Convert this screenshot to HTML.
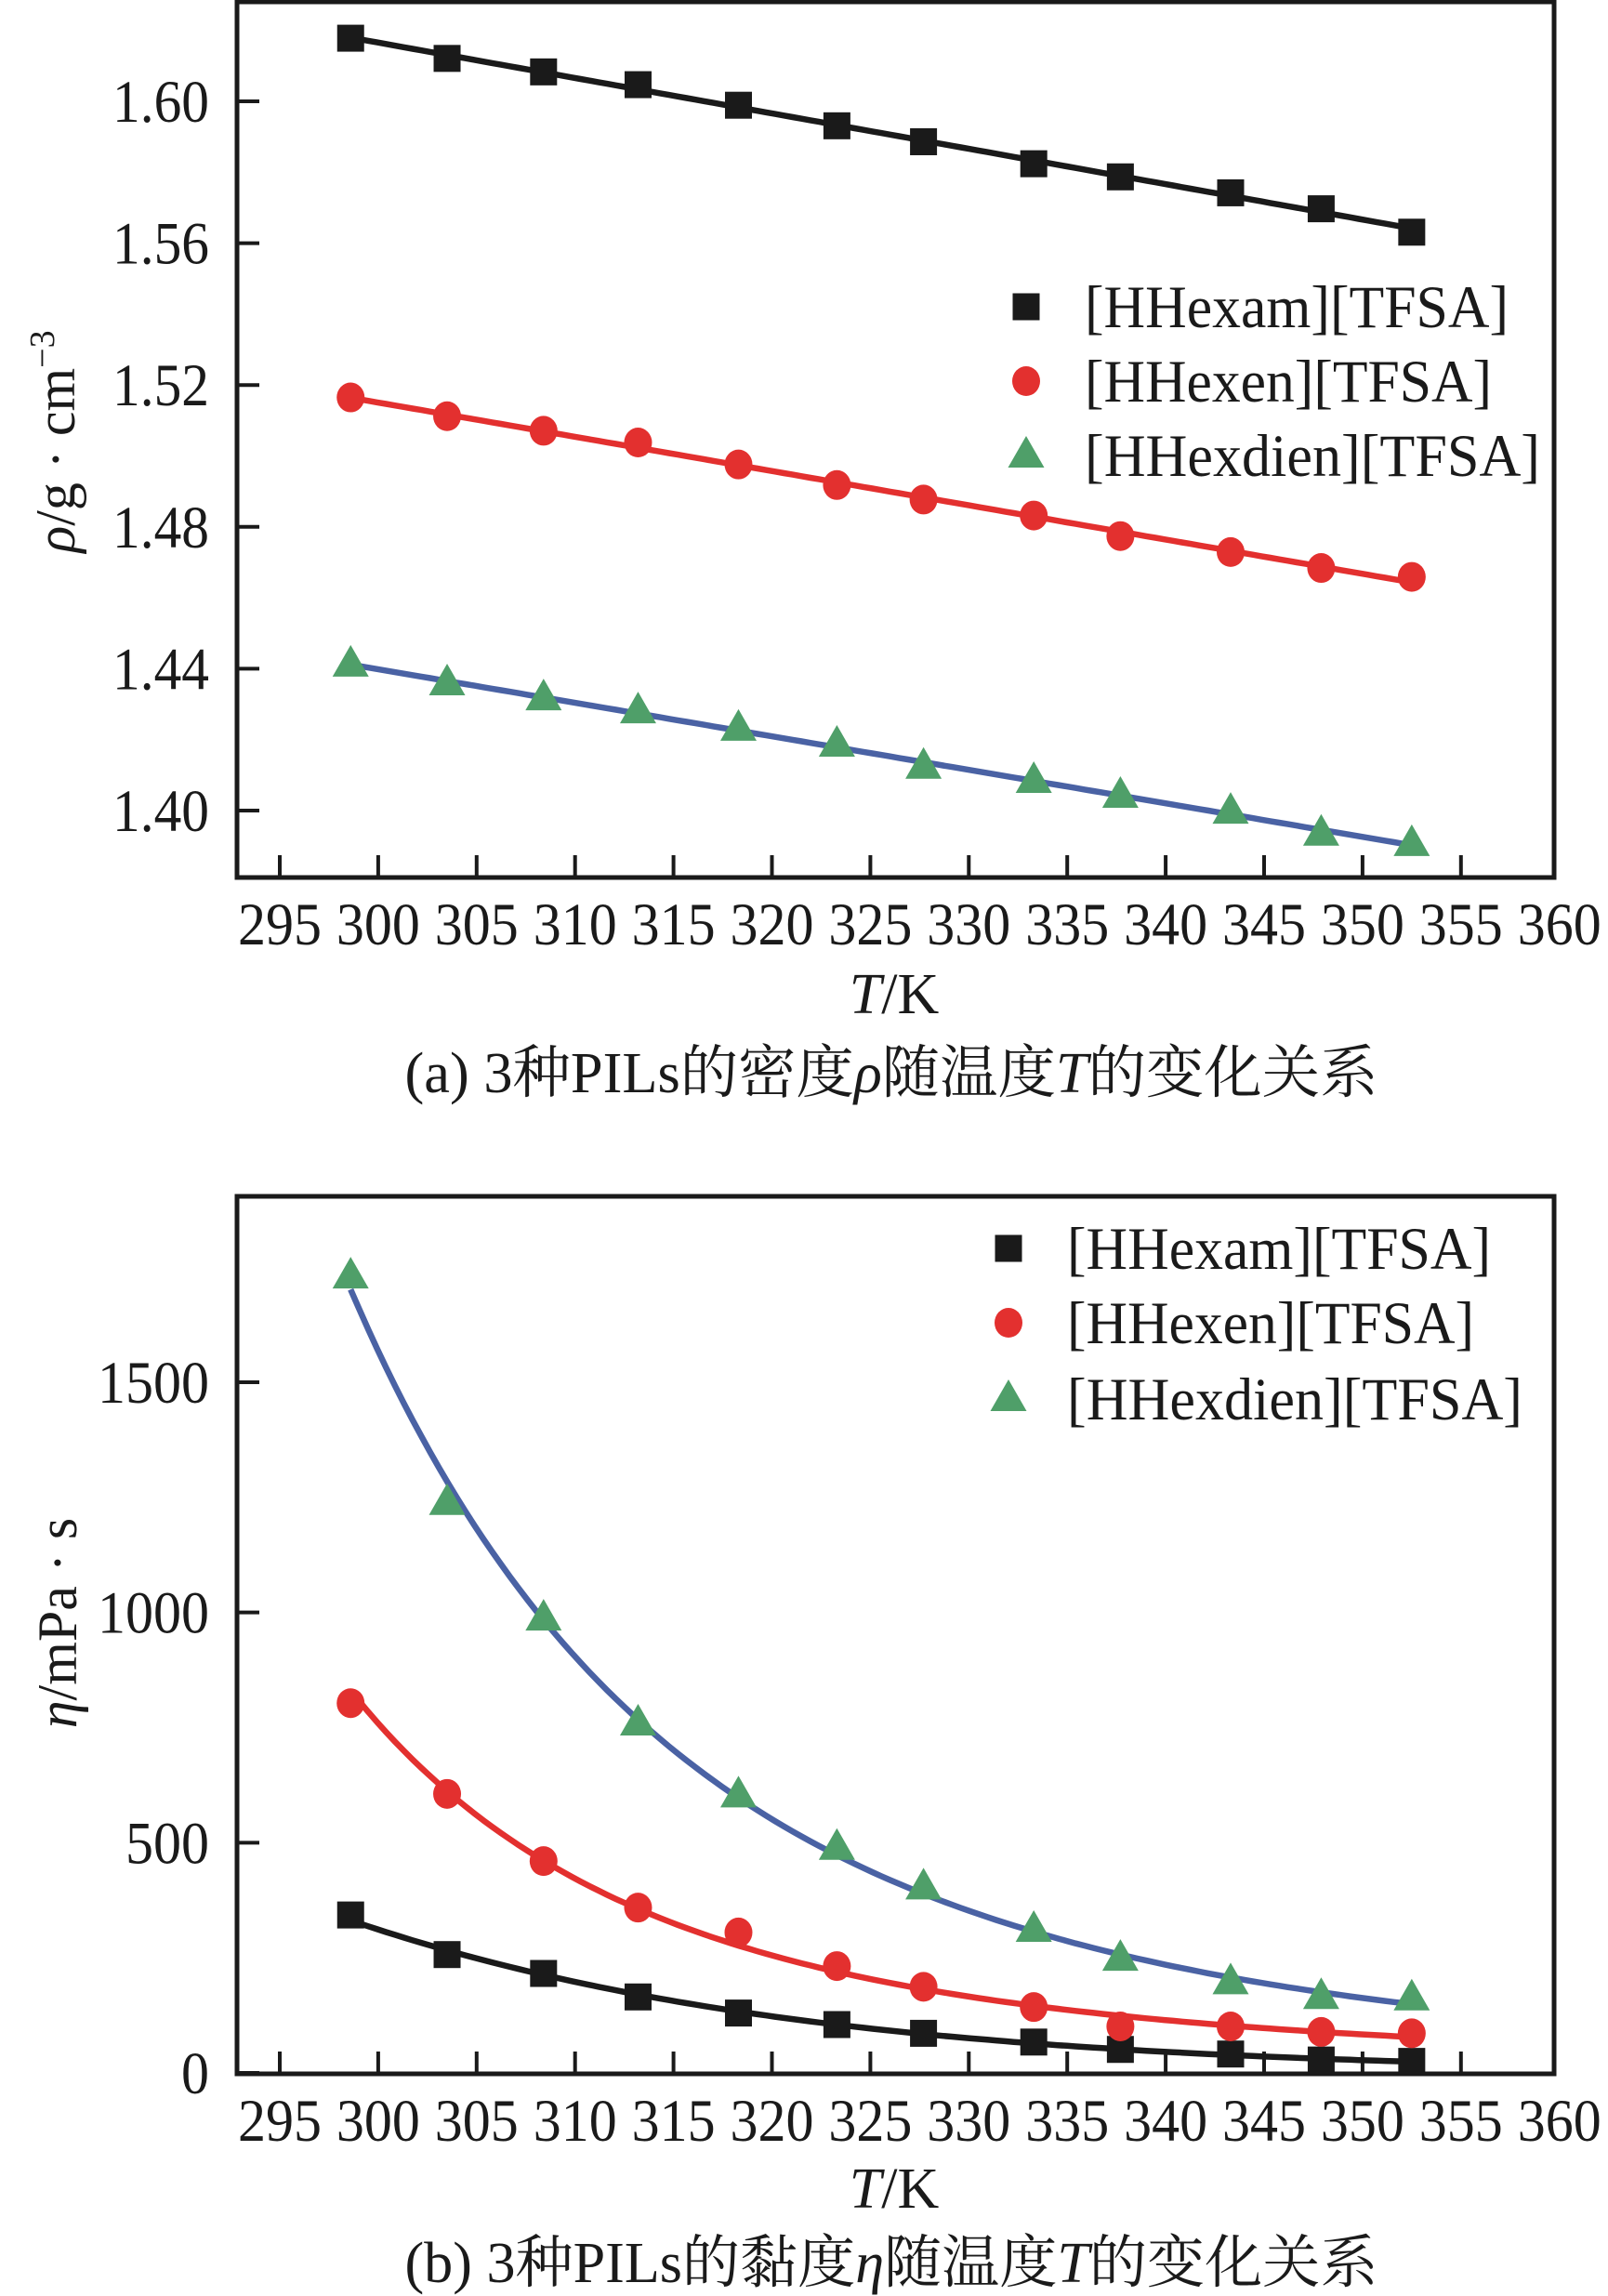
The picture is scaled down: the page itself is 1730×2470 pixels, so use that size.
<!DOCTYPE html>
<html><head><meta charset="utf-8"><style>
html,body{margin:0;padding:0;background:#fff;}
svg{display:block;}
text{font-family:"Liberation Serif","Noto Serif CJK SC",serif;fill:#1a1a1a;}
</style></head><body>
<svg id="fig" width="1730" height="2470" viewBox="0 0 1730 2470" xmlns="http://www.w3.org/2000/svg"></svg>
<script>
const temps = [298.6,303.5,308.4,313.2,318.3,323.3,327.7,333.3,337.7,343.3,347.9,352.5];
const xTicks = [295,300,305,310,315,320,325,330,335,340,345,350,355,360];
const seriesNames = ["[HHexam][TFSA]","[HHexen][TFSA]","[HHexdien][TFSA]"];
const densExam = [1.6178,1.6121,1.6083,1.6047,1.5989,1.5931,1.5886,1.5824,1.5787,1.5742,1.5697,1.5631];
const densExen = [1.5165,1.5112,1.5071,1.5038,1.4976,1.4918,1.4877,1.4832,1.4774,1.4729,1.4684,1.4659];
const densExdien = [1.4412,1.4359,1.4317,1.4280,1.4231,1.4186,1.4124,1.4084,1.4042,1.3997,1.3935,1.3906];
const densTicks = [1.40,1.44,1.48,1.52,1.56,1.60];
const viscExam = [343,257,216,165,130,105,86,67,51,41,28,25];
const viscExen = [803,606,460,359,305,232,187,143,101,101,89,86];
const viscExdien = [1730,1238,987,759,603,489,403,311,248,197,165,162];
const viscTicks = [0,500,1000,1500];

const NS="http://www.w3.org/2000/svg";
const svg=document.getElementById('fig');
function mk(tag,attrs,parent){const e=document.createElementNS(NS,tag);for(const k in attrs)e.setAttribute(k,attrs[k]);(parent||svg).appendChild(e);return e;}
const COL={black:"#1a1a1a",red:"#e3302f",blue:"#4a62a4",green:"#4f9f69"};
function xS(T){return 301+(T-295)*21.18;}

function fitLinear(xs,ys){const n=xs.length;let sx=0,sy=0,sxx=0,sxy=0;for(let i=0;i<n;i++){sx+=xs[i];sy+=ys[i];sxx+=xs[i]*xs[i];sxy+=xs[i]*ys[i];}const b=(n*sxy-sx*sy)/(n*sxx-sx*sx);const a=(sy-b*sx)/n;return t=>a+b*t;}
function fitLogQuad(xs,ys){const u=xs.map(t=>1000/t),v=ys.map(y=>Math.log(y));const M=[[0,0,0],[0,0,0],[0,0,0]],r=[0,0,0];for(let i=0;i<u.length;i++){const p=[1,u[i],u[i]*u[i]];for(let a=0;a<3;a++){r[a]+=p[a]*v[i];for(let b=0;b<3;b++)M[a][b]+=p[a]*p[b];}}
 for(let c=0;c<3;c++){let p=c;for(let k=c+1;k<3;k++)if(Math.abs(M[k][c])>Math.abs(M[p][c]))p=k;[M[c],M[p]]=[M[p],M[c]];[r[c],r[p]]=[r[p],r[c]];for(let k=0;k<3;k++){if(k===c)continue;const f=M[k][c]/M[c][c];for(let j=c;j<3;j++)M[k][j]-=f*M[c][j];r[k]-=f*r[c];}}
 const co=[r[0]/M[0][0],r[1]/M[1][1],r[2]/M[2][2]];return t=>{const q=1000/t;return Math.exp(co[0]+co[1]*q+co[2]*q*q);};}

function marker(kind,x,y,g){let m;
 if(kind==="square"){m=mk('rect',{x:x-14.5,y:y-14.5,width:29,height:29,fill:COL.black},g);}
 else if(kind==="circle"){m=mk('ellipse',{cx:x,cy:y,rx:15,ry:16,fill:COL.red},g);}
 else{m=mk('polygon',{points:`${x},${y-21} ${x+19.5},${y+13} ${x-19.5},${y+13}`,fill:COL.green},g);}
 return m;}

function panel(cfg){
 const g=mk('g',{});
 
 
 const L=255,R=1672,T=cfg.top,B=cfg.bottom;
 const yS=v=>cfg.y0+(v-cfg.v0)*cfg.k;
 const sers=[{d:cfg.s[0],kind:"square",line:COL.black,n:"hhexam"},{d:cfg.s[1],kind:"circle",line:COL.red,n:"hhexen"},{d:cfg.s[2],kind:"triangle",line:COL.blue,n:"hhexdien"}];
 sers.forEach(s=>{
  const f=cfg.fit(temps,s.d);let pts=[];const t0=temps[0],t1=temps[temps.length-1];
  for(let i=0;i<=120;i++){const t=t0+(t1-t0)*i/120;pts.push(xS(t).toFixed(1)+","+yS(f(t)).toFixed(1));}
  const ln=mk('polyline',{points:pts.join(" "),fill:"none",stroke:s.line,"stroke-width":6.5,"stroke-linejoin":"round"},g);
  
  
 });
 sers.forEach(s=>{temps.forEach((t,i)=>{
  const m=marker(s.kind,xS(t),yS(s.d[i]),g);
  
  
 });});
 const fr=mk('rect',{x:L,y:T,width:R-L,height:B-T,fill:"none",stroke:COL.black,"stroke-width":5},g);
 
 
 xTicks.forEach(t=>{const x=xS(t);
  if(t!==360){mk('line',{x1:x,y1:B,x2:x,y2:B-24,stroke:COL.black,"stroke-width":4},g);}
  const tx=mk('text',{x:x,y:B+72,"font-size":65,"text-anchor":"middle",textLength:90,lengthAdjust:"spacingAndGlyphs"},g);tx.textContent=t;
  
  
 });
 cfg.ticks.forEach(v=>{const y=yS(v);
  mk('line',{x1:L,y1:y,x2:L+24,y2:y,stroke:COL.black,"stroke-width":4},g);
  const s=cfg.fmt(v);
  const w=s.replace(/\./g,'').length*30+(s.split('.').length-1)*14;
  const tx=mk('text',{x:225,y:y+22,"font-size":65,"text-anchor":"end",textLength:w,lengthAdjust:"spacingAndGlyphs"},g);tx.textContent=s;
  
  
 });
 const kinds=["square","circle","triangle"];
 seriesNames.forEach((nm,i)=>{const y=cfg.legY[i];
  const m=marker(kinds[i],cfg.legX,y,g);
  
  
  const tx=mk('text',{x:cfg.legX+63,y:y+22,"font-size":65,textLength:[456,438,490][i],lengthAdjust:"spacingAndGlyphs"},g);tx.textContent=nm;
  
  
 });
 const xt=mk('text',{x:962,y:cfg.xTitleY,"font-size":62,"text-anchor":"middle"},g);
 xt.innerHTML='<tspan font-style="italic">T</tspan>/K';
 
 
 const yt=mk('text',{x:0,y:0,"font-size":60,"text-anchor":"middle",transform:`translate(${cfg.yTitleX},${cfg.yTitleY}) rotate(-90)`},g);
 yt.innerHTML=cfg.yTitle;
 
 
 const cap=mk('text',{x:959,y:cfg.capY,"font-size":62,"text-anchor":"middle",textLength:1047,lengthAdjust:"spacingAndGlyphs"},g);
 cap.innerHTML=cfg.caption;
 
 
}

panel({name:"density-chart",top:2,bottom:944,y0:872,v0:1.40,k:-(872-109)/0.20,ticks:densTicks,fmt:v=>v.toFixed(2),
 s:[densExam,densExen,densExdien],fit:fitLinear,legX:1104,legY:[330,410,490],xTitleY:1090,yTitleX:80,yTitleY:475,
 yTitle:'<tspan font-style="italic">ρ</tspan>/g · cm<tspan dy="-22" font-size="38">−3</tspan>',
 capY:1175,caption:'(a) 3种PILs的密度<tspan font-style="italic">ρ</tspan>随温度<tspan font-style="italic">T</tspan>的变化关系'});
panel({name:"viscosity-chart",top:1287,bottom:2231,y0:2230,v0:0,k:-(2230-1487)/1500,ticks:viscTicks,fmt:v=>String(v),
 s:[viscExam,viscExen,viscExdien],fit:fitLogQuad,legX:1085,legY:[1343,1423,1505],xTitleY:2375,yTitleX:82,yTitleY:1746,
 yTitle:'<tspan font-style="italic">η</tspan>/mPa · s',
 capY:2455,caption:'(b) 3种PILs的黏度<tspan font-style="italic">η</tspan>随温度<tspan font-style="italic">T</tspan>的变化关系'});
</script>
</body></html>
